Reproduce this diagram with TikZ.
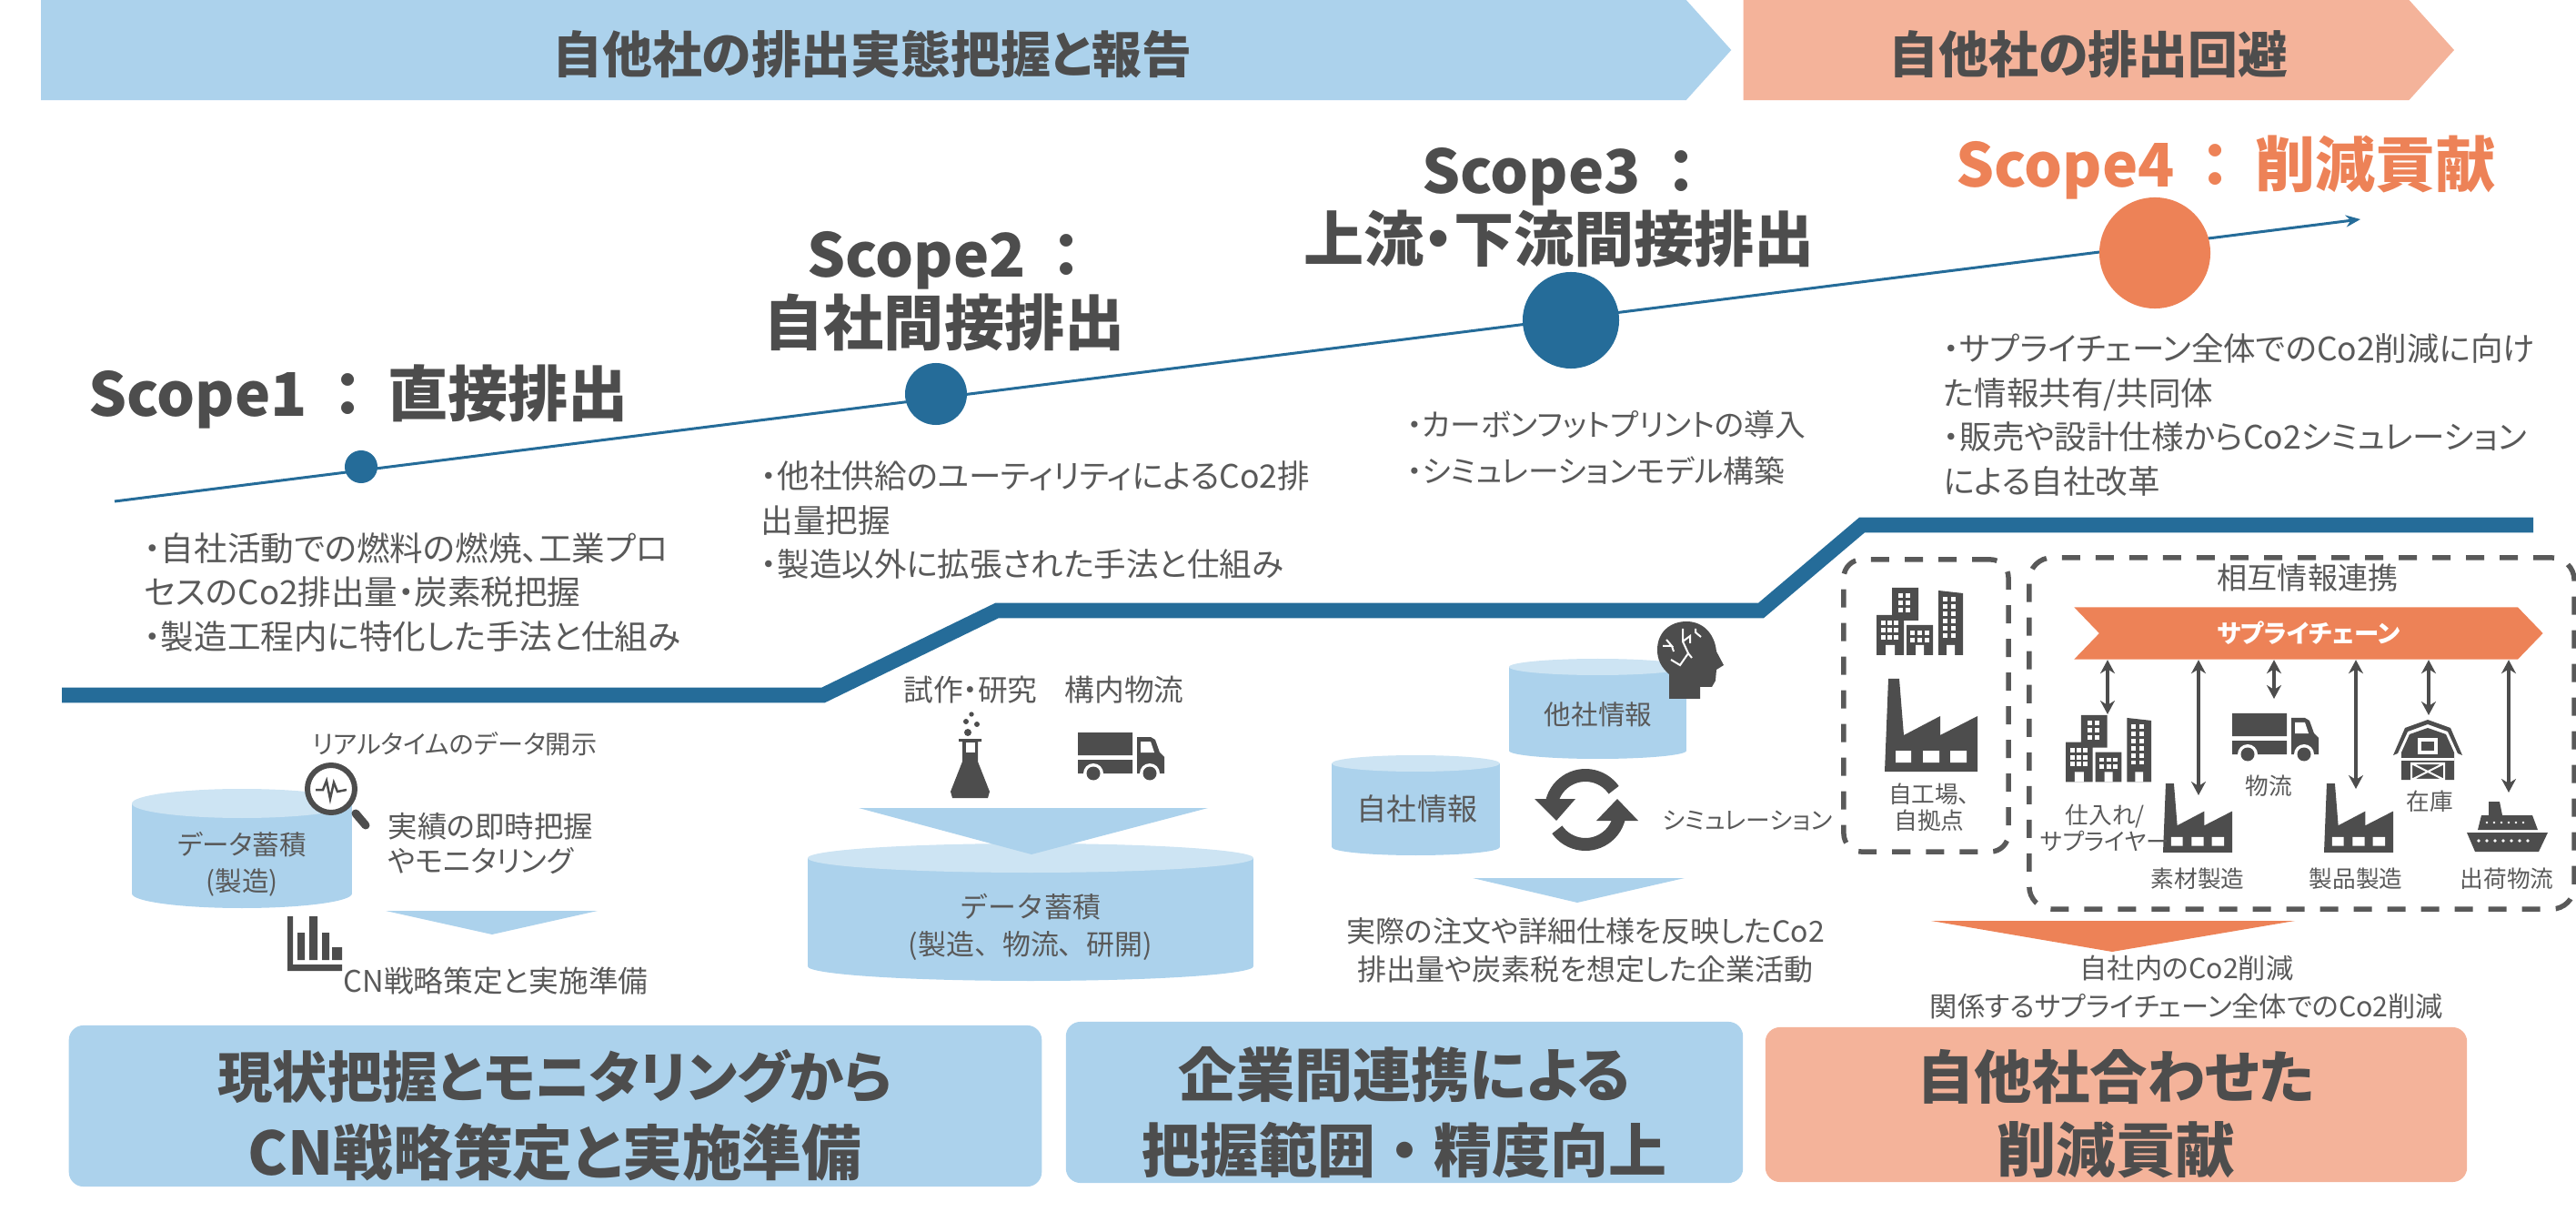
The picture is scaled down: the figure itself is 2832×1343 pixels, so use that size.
\documentclass[tikz,border=0pt]{standalone}
\usepackage{fontspec}
\setmainfont[RawFeature=+palt]{Noto Sans CJK JP}
\newfontfamily\fullwidth{Noto Sans CJK JP}
\usepackage{xcolor}
\usetikzlibrary{arrows.meta, positioning, shapes.geometric, shapes.symbols}
\definecolor{paleblue}{HTML}{ACD2EC}
\definecolor{topblue}{HTML}{CDE4F3}
\definecolor{deepblue}{HTML}{256C99}
\definecolor{orangemain}{HTML}{ED8257}
\definecolor{salmon}{HTML}{F4B39A}
\definecolor{textgray}{HTML}{595959}
\definecolor{icongray}{HTML}{4D4D4D}
\newcommand{\scopecolon}{\hspace{0.42em}：\hspace{0.42em}}
% centre x, top y, x radius, y radius, bottom y
\newcommand{\dbcan}[5]{
  \fill[paleblue] ({#1-#3},{#2+#4}) rectangle ({#1+#3},{#5-#4});
  \fill[paleblue] (#1,{#5-#4}) ellipse [x radius=#3, y radius=#4];
  \fill[topblue] (#1,{#2+#4}) ellipse [x radius=#3, y radius=#4];
}
\tikzset{
  banner/.style={signal, signal to=east, inner sep=0pt, minimum height=1.10cm, signal pointer angle=96},
  bannertext/.style={text=icongray, inner sep=0pt, font=\bfseries\fontsize{15.6}{18}\selectfont},
  scopelabel/.style={align=center, text=icongray, inner sep=0pt, font=\bfseries\fontsize{18.8}{21.4}\selectfont},
  bodytext/.style={align=left, anchor=west, inner sep=0pt, text=textgray, font=\fontsize{10.1}{13.8}\selectfont},
  smalltext/.style={align=center, inner sep=0pt, text=textgray, font=\fontsize{9.3}{11}\selectfont},
  tinytext/.style={align=center, inner sep=0pt, text=textgray, font=\fontsize{7.3}{8.3}\selectfont},
  dbtext/.style={align=center, inner sep=0pt, text=textgray, font=\fontsize{8.4}{11.4}\selectfont},
  panel/.style={rounded corners=0.16cm, inner sep=0pt},
  paneltext/.style={align=center, inner sep=0pt, text=icongray, font=\bfseries\fontsize{17.2}{23.6}\selectfont},
  dashbox/.style={draw=textgray, line width=0.055cm, rounded corners=0.2cm, dash pattern=on 0.2cm off 0.17cm},
  linkarrow/.style={{Stealth[length=0.15cm, width=0.16cm]}-{Stealth[length=0.15cm, width=0.16cm]},
                    line width=0.04cm, icongray},
  dot/.style={circle, fill=deepblue, inner sep=0pt},
  buildingicon/.pic={
    \fill[icongray] (0,30) rectangle (30,74) (17,0) rectangle (46,36) (33,41) rectangle (62,74)
      (68,3) -- (95,6) -- (95,74) -- (68,74) -- cycle;
    \fill[white] (10,63) rectangle (20,74) (43,63) rectangle (52,74) (77,63) rectangle (86,74);
    \foreach \wx in {5,12,19} \foreach \wy in {36,44,52} \fill[white] (\wx,\wy) rectangle ++(5,5);
    \foreach \wx in {38,46,54} \foreach \wy in {47,55} \fill[white] (\wx-1,\wy) rectangle ++(5,5);
    \foreach \wx in {24,32} \foreach \wy in {6,14,22} \fill[white] (\wx,\wy) rectangle ++(5,5);
    \foreach \wx in {73,82} \foreach \wy in {10,18,26,34,42,50} \fill[white] (\wx,\wy) rectangle ++(5,5);
  },
  factoryicon/.pic={
    \fill[icongray] (4,0) -- (16,0) -- (21,62) -- (61,41) -- (61,62) -- (102,41) -- (102,102) -- (0,102) -- cycle;
    \fill[white] (12,79) rectangle (29,92) (42,79) rectangle (60,92) (72,79) rectangle (90,92);
  },
  truckicon/.pic={
    \fill[icongray] (0,0) rectangle (60,25) (0,30) rectangle (60,45);
    \fill[icongray] (65,5) -- (80,5) -- (85,8) -- (90,22) -- (95,27) -- (95,45) -- (65,45) -- cycle;
    \fill[white] (69,10) -- (80,10) -- (84,22) -- (69,22) -- cycle;
    \fill[white] (17,45) circle (11) (79,45) circle (11);
    \fill[icongray] (17,45) circle (7.5) (79,45) circle (7.5);
  },
  barnicon/.pic={
    \fill[icongray] (0,39) -- (13,9) -- (38,0) -- (63,9) -- (76,39) -- (71,37) -- (60,13) -- (38,5) -- (16,13) -- (5,37) -- cycle;
    \fill[icongray] (9,66) -- (9,36) -- (18,16) -- (38,9) -- (58,16) -- (67,36) -- (67,66) -- cycle;
    \fill[white] (27,20) rectangle (49,38);
    \fill[icongray] (31,24) rectangle (45,34);
    \fill[white] (9,42) rectangle (67,44.5);
    \draw[white, line width=0.02cm] (20,48) rectangle (56,66) (20,48) -- (56,66) (20,66) -- (56,48);
  },
  shipicon/.pic={
    \fill[icongray] (0,34) -- (89,34) -- (79,55) -- (9,55) -- cycle;
    \fill[icongray] (12,31) -- (16,15) -- (72,15) -- (78,31) -- cycle;
    \fill[icongray] (24,0) -- (36,0) -- (39,15) -- (24,15) -- cycle;
    \foreach \sx in {22,30,38,46,54,62} \fill[white] (\sx,23) circle (1.3);
    \foreach \sx in {13,22,31,40,49,58,67} \fill[white] (\sx,43) circle (1.8);
  },
  flaskicon/.pic={
    \fill[icongray] (23,3) circle (2.7) (17,11) circle (3) (29,14) circle (3) (19,23) circle (4);
    \fill[icongray] (9,30) -- (34,30) -- (34,33) -- (30,33) -- (30,55) -- (43,88) -- (41,95) -- (2,95) -- (0,88) -- (13,55) -- (13,33) -- (9,33) -- cycle;
    \fill[white] (17,34) rectangle (27,45);
  },
  headicon/.pic={
    \fill[icongray] (13,85) -- (13,58) .. controls (4,50) and (0,42) .. (0,31)
      .. controls (0,12) and (14,0) .. (32,0) .. controls (50,0) and (63,13) .. (65,33)
      -- (73,48) -- (65,53) -- (64,65) -- (60,72) -- (47,72) -- (47,85) -- cycle;
    \draw[white, line width=0.02cm] (28,8) -- (28,22) -- (34,35) -- (25,48) -- (15,42) (34,35) -- (38,40)
      (28,22) -- (36,16) -- (36,24) (10,20) -- (16,27) -- (6,27) (16,27) -- (18,33) (42,8) -- (42,12) -- (48,17);
  },
  refreshicon/.pic={
    \draw[icongray, line width=0.14cm] plot[domain=-172:-35, samples=24] ({38*cos(\x)}, {38*sin(\x)});
    \draw[icongray, line width=0.14cm] plot[domain=8:145, samples=24] ({38*cos(\x)}, {38*sin(\x)});
    \fill[icongray] (-56,-12) -- (-11,-12) -- (-32,12) -- cycle (12,12) -- (58,12) -- (35,-12) -- cycle;
  },
  barsicon/.pic={
    \fill[icongray] (0,0) rectangle (6,60) (0,53) rectangle (60,60);
    \fill[icongray] (11,18) rectangle (19,48) (24,0) rectangle (33,48) (38,18) rectangle (46,48) (49,34) rectangle (60,48);
  },
  lensicon/.pic={
    \draw[icongray, line width=0.09cm, line cap=round] (27,27) -- (38,40);
    \draw[icongray, line width=0.06cm, fill=white] (0,0) circle (26);
    \draw[icongray, line width=0.025cm] (-17,1) -- (-9,1) -- (-5,-9) -- (-1,11) -- (3,-7) -- (7,3) -- (17,1);
  }
}
\begin{document}
\begin{tikzpicture}[x=0.01cm, y=-0.01cm]
\useasboundingbox (0,0) rectangle (2832,1343);

% Top banners
\node[banner, fill=paleblue, minimum width=18.57cm] (ownreport) at (949.5,55) {};
\node[banner, fill=salmon, minimum width=7.81cm] (avoid) at (2282.5,55) {};
\node[bannertext] (ownreportlabel) at (959,60) {自他社の排出実態把握と報告};
\node[bannertext] (avoidlabel) at (2296,60) {自他社の排出回避};

% Rising line
\coordinate (risestart) at (126,551);
\coordinate (riseend) at (2595,241);
\draw[deepblue, line width=0.03cm, -{Stealth[length=0.16cm, width=0.13cm]}] (risestart) -- (riseend);
\node[dot, minimum size=0.36cm] (dotone) at (397,513) {};
\node[dot, minimum size=0.68cm] (dottwo) at (1029,433) {};
\node[dot, minimum size=1.06cm] (dotthree) at (1727,352) {};
\node[dot, fill=orangemain, minimum size=1.22cm] (dotfour) at (2369,278) {};

% Scope labels
\node[scopelabel] (scopeone) at (394,436) {Scope1\scopecolon 直接排出};
\node[scopelabel] (scopetwo) at (1038,320) {Scope2\scopecolon\\自社間接排出};
\node[scopelabel] (scopethree) at (1714,228) {Scope3\scopecolon\\上流・下流間接排出};
\node[scopelabel, text=orangemain] (scopefour) at (2447,184) {Scope4\scopecolon 削減貢献};

% Scope text
\node[bodytext, font=\fontsize{10.4}{13.8}\selectfont] (noteone) at (158,651) {・自社活動での燃料の燃焼、工業プロ\\セスのCo2排出量・炭素税把握\\・製造工程内に特化した手法と仕組み};
\node[bodytext] (notetwo) at (836,572) {・他社供給のユーティリティによるCo2排\\出量把握\\・製造以外に拡張された手法と仕組み};
\node[bodytext, font=\fontsize{9.6}{14.6}\selectfont] (notethree) at (1546,492) {・カーボンフットプリントの導入\\・シミュレーションモデル構築};
\node[bodytext] (notefour) at (2136,456) {・サプライチェーン全体でのCo2削減に向け\\た情報共有/共同体\\・販売や設計仕様からCo2シミュレーション\\による自社改革};

% Step line
\coordinate (stepa) at (68,764);
\coordinate (stepb) at (905,764);
\coordinate (stepc) at (1096,671);
\coordinate (stepd) at (1936,671);
\coordinate (stepe) at (2047,577);
\coordinate (stepf) at (2785,577);
\draw[deepblue, line width=0.165cm] (stepa) -- (stepb) -- (stepc) -- (stepd) -- (stepe) -- (stepf);

% First column
\dbcan{266}{867}{121}{16}{998}
\node[dbtext] (dbmaketext) at (266,950) {データ蓄積\\(製造)};
\pic at (364,867) {lensicon};
\node[smalltext, font=\fontsize{8}{9}\selectfont] (realtime) at (500,818) {リアルタイムのデータ開示};
\node[bodytext, font=\fontsize{9.2}{10.6}\selectfont] (instant) at (426,927) {実績の即時把握\\やモニタリング};
\fill[paleblue] (424,1001) -- (657,1001) -- (541,1027) -- cycle;
\pic at (316,1007) {barsicon};
\node[smalltext] (cnplan) at (545,1078) {CN戦略策定と実施準備};

% Second column
\node[smalltext] (trial) at (1067,758) {試作・研究};
\node[smalltext] (yard) at (1236,758) {構内物流};
\pic at (1045,782) {flaskicon};
\pic at (1185,805) {truckicon};
\dbcan{1133}{927}{245}{16}{1078}
\fill[paleblue] (944,888) -- (1328,888) -- (1134,939) -- cycle;
\node[dbtext, font=\fullwidth\fontsize{8.8}{11.6}\selectfont] (dbwidetext) at (1133,1019) {データ蓄積\\(製造、物流、研開)};

% Third column
\dbcan{1756.5}{724}{97.5}{9}{834}
\node[dbtext] (dbothertext) at (1757,785) {他社情報};
\pic at (1822,683) {headicon};
\dbcan{1556.5}{830}{92.5}{9}{940}
\node[dbtext, font=\fontsize{9.4}{11}\selectfont] (dbowntext) at (1558,889) {自社情報};
\pic at (1743,890) {refreshicon};
\node[smalltext, font=\fontsize{7.6}{9}\selectfont] (simulate) at (1921,902) {シミュレーション};
\fill[paleblue] (1619,965) -- (1852,965) -- (1734,992) -- cycle;
\node[smalltext, font=\fontsize{9.1}{12}\selectfont] (activity) at (1743,1044) {実際の注文や詳細仕様を反映したCo2\\排出量や炭素税を想定した企業活動};

% Fourth column
\node[dashbox, minimum width=1.81cm, minimum height=3.21cm] (ownsites) at (2117.5,775.5) {};
\node[dashbox, rounded corners=0.25cm, minimum width=5.99cm, minimum height=3.86cm] (mutual) at (2530.5,806) {};
\pic at (2063,646) {buildingicon};
\pic at (2072,746) {factoryicon};
\node[tinytext] (ownsiteslabel) at (2121,887) {自工場、\\自拠点};
\node[smalltext, font=\fontsize{9.4}{11}\selectfont] (mutuallabel) at (2537,635) {相互情報連携};
\node[signal, signal to=east, signal from=west, signal pointer angle=92, fill=orangemain, text=white,
      minimum width=5.15cm, minimum height=0.57cm, inner sep=0pt,
      font=\bfseries\fontsize{7.8}{10}\selectfont] (chain) at (2538,696) {サプライチェーン};

\pic[scale=0.99] at (2271,786) {buildingicon};
\pic[scale=0.745] at (2378,861) {factoryicon};
\pic at (2454,784) {truckicon};
\pic[scale=0.745] at (2555,861) {factoryicon};
\pic at (2631,791) {barnicon};
\pic at (2712,881) {shipicon};

\node[tinytext] (supplier) at (2314,910) {仕入れ/\\サプライヤー};
\node[tinytext] (material) at (2416,966) {素材製造};
\node[tinytext] (logistics) at (2494,864) {物流};
\node[tinytext] (product) at (2590,966) {製品製造};
\node[tinytext] (stock) at (2671,881) {在庫};
\node[tinytext] (shipping) at (2756,966) {出荷物流};

\coordinate (tosupplier) at (2317,785);
\coordinate (tomaterial) at (2417,874);
\coordinate (totruck) at (2500,768);
\coordinate (toproduct) at (2590,867);
\coordinate (tobarn) at (2670,786);
\coordinate (toship) at (2758,871);
\foreach \target in {tosupplier, tomaterial, totruck, toproduct, tobarn, toship}
  \draw[linkarrow] (\target |- chain.south) -- (\target);

\fill[orangemain] (2123,1012) -- (2523,1012) -- (2322,1046) -- cycle;
\node[smalltext, font=\fontsize{8.6}{11.8}\selectfont] (reduce) at (2404,1085) {自社内のCo2削減\\関係するサプライチェーン全体でのCo2削減};

% Bottom panels
\node[panel, fill=paleblue, minimum width=10.69cm, minimum height=1.77cm] (panelone) at (610.5,1215.5) {};
\node[panel, fill=paleblue, minimum width=7.44cm, minimum height=1.77cm] (paneltwo) at (1544,1211.5) {};
\node[panel, fill=salmon, minimum width=7.71cm, minimum height=1.70cm] (panelthree) at (2326.5,1214) {};
\node[paneltext] (paneloneupper) at (610,1183) {現状把握とモニタリングから};
\node[paneltext, font=\bfseries\fontsize{18.7}{23.6}\selectfont] (paneltwolower) at (610,1266) {CN戦略策定と実施準備};
\node[paneltext, font=\bfseries\fontsize{18.2}{23.6}\selectfont] (panelmidupper) at (1544,1181) {企業間連携による};
\node[paneltext, font=\bfseries\fullwidth\fontsize{18.2}{23.6}\selectfont] (panelmidlower) at (1544,1264) {把握範囲・精度向上};
\node[paneltext, font=\bfseries\fontsize{18}{23.6}\selectfont] (panelrightupper) at (2326,1183) {自他社合わせた};
\node[paneltext, font=\bfseries\fontsize{18.6}{23.6}\selectfont] (panelrightlower) at (2326,1264) {削減貢献};

\end{tikzpicture}
\end{document}
